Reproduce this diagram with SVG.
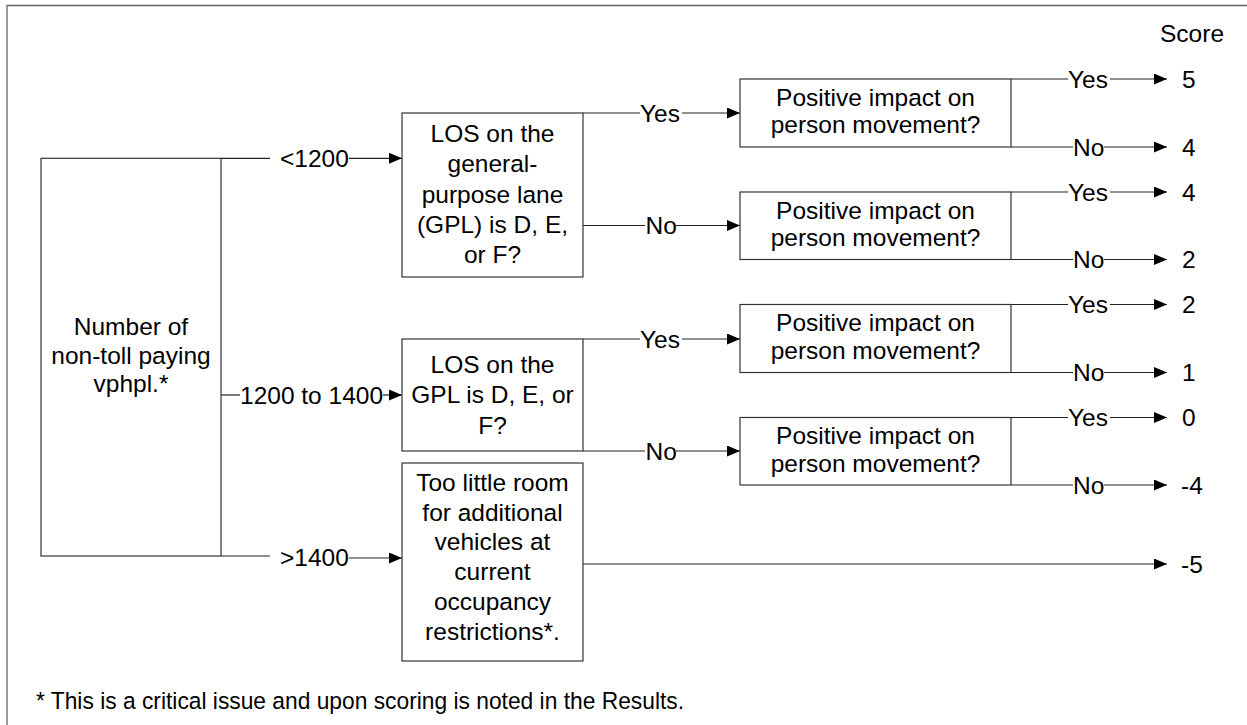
<svg xmlns="http://www.w3.org/2000/svg" width="1247" height="725" viewBox="0 0 1247 725">
<defs>
<style>
text{font-family:"Liberation Sans",Arial,sans-serif;font-size:24.5px;fill:#000}
.c{text-anchor:middle}
.box{fill:#fff;stroke:#333;stroke-width:1.2}
.ln{fill:none;stroke:#222;stroke-width:1.2}
.ar{fill:none;stroke:#222;stroke-width:1.2;marker-end:url(#ah)}
.frame{fill:none;stroke:#666;stroke-width:1.3}
</style>
<marker id="ah" markerWidth="13" markerHeight="11" refX="13" refY="5.5" orient="auto" markerUnits="userSpaceOnUse"><path d="M0,0 L13,5.5 L0,11 z" fill="#000"/></marker>
</defs>
<rect x="0" y="0" width="1247" height="725" fill="#fff"/>
<path class="frame" d="M1247,5.5 H7 V725"/>
<text x="1160" y="41.5">Score</text>

<g id="connectors">
  <!-- from root -->
  <path class="ln" d="M221,158.3 H270"/>
  <text x="280" y="166.8">&lt;1200</text>
  <path class="ar" d="M349,158.3 H402"/>
  <path class="ln" d="M221,395 H240"/>
  <text x="240" y="403.5">1200 to 1400</text>
  <path class="ar" d="M383,395 H402"/>
  <path class="ln" d="M221,556 H270"/>
  <text x="280" y="566">&gt;1400</text>
  <path class="ar" d="M349,558 H402"/>

  <!-- LOS 1 -->
  <path class="ln" d="M583,113 H640"/>
  <text x="640" y="121.5">Yes</text>
  <path class="ar" d="M682,113 H740"/>
  <path class="ln" d="M583,225.5 H645"/>
  <text x="645.5" y="234">No</text>
  <path class="ar" d="M676,225.5 H740"/>

  <!-- LOS 2 -->
  <path class="ln" d="M583,339 H640"/>
  <text x="640" y="347.5">Yes</text>
  <path class="ar" d="M682,339 H740"/>
  <path class="ln" d="M583,451 H645"/>
  <text x="645.5" y="459.5">No</text>
  <path class="ar" d="M676,451 H740"/>

  <!-- Too little room -->
  <path class="ar" d="M583,564 H1167"/>
  <text x="1181" y="572.5">-5</text>

  <!-- Positive 1 -->
  <path class="ln" d="M1011,79 H1068"/>
  <text x="1068" y="87.5">Yes</text>
  <path class="ar" d="M1110,79 H1167"/>
  <text x="1182" y="87.5">5</text>
  <path class="ln" d="M1011,147 H1073"/>
  <text x="1073" y="155.5">No</text>
  <path class="ar" d="M1104,147 H1167"/>
  <text x="1182" y="155.5">4</text>

  <!-- Positive 2 -->
  <path class="ln" d="M1011,192 H1068"/>
  <text x="1068" y="200.5">Yes</text>
  <path class="ar" d="M1110,192 H1167"/>
  <text x="1182" y="200.5">4</text>
  <path class="ln" d="M1011,259.5 H1073"/>
  <text x="1073" y="268">No</text>
  <path class="ar" d="M1104,259.5 H1167"/>
  <text x="1182" y="268">2</text>

  <!-- Positive 3 -->
  <path class="ln" d="M1011,304.5 H1068"/>
  <text x="1068" y="313">Yes</text>
  <path class="ar" d="M1110,304.5 H1167"/>
  <text x="1182" y="313">2</text>
  <path class="ln" d="M1011,372.5 H1073"/>
  <text x="1073" y="381">No</text>
  <path class="ar" d="M1104,372.5 H1167"/>
  <text x="1182" y="381">1</text>

  <!-- Positive 4 -->
  <path class="ln" d="M1011,417.5 H1068"/>
  <text x="1068" y="426">Yes</text>
  <path class="ar" d="M1110,417.5 H1167"/>
  <text x="1182" y="426">0</text>
  <path class="ln" d="M1011,485 H1073"/>
  <text x="1073" y="493.5">No</text>
  <path class="ar" d="M1104,485 H1167"/>
  <text x="1181" y="493.5">-4</text>
</g>

<g id="root">
  <rect class="box" x="41" y="158.3" width="180" height="397.7"/>
  <text class="c" x="131" y="335">Number of</text>
  <text class="c" x="131" y="363.5">non-toll paying</text>
  <text class="c" x="131" y="392">vphpl.*</text>
</g>

<g id="los1">
  <rect class="box" x="402" y="113" width="181" height="164"/>
  <text class="c" x="492.5" y="142.3">LOS on the</text>
  <text class="c" x="492.5" y="172.4">general-</text>
  <text class="c" x="492.5" y="202.5">purpose lane</text>
  <text class="c" x="492.5" y="232.6">(GPL) is D, E,</text>
  <text class="c" x="492.5" y="262.7">or F?</text>
</g>

<g id="los2">
  <rect class="box" x="402" y="339" width="181" height="112"/>
  <text class="c" x="492.5" y="373">LOS on the</text>
  <text class="c" x="492.5" y="403.3">GPL is D, E, or</text>
  <text class="c" x="492.5" y="433.5">F?</text>
</g>

<g id="toolittle">
  <rect class="box" x="402" y="463" width="181" height="198"/>
  <text class="c" x="492.5" y="490.7">Too little room</text>
  <text class="c" x="492.5" y="520.5">for additional</text>
  <text class="c" x="492.5" y="550.3">vehicles at</text>
  <text class="c" x="492.5" y="580.1">current</text>
  <text class="c" x="492.5" y="609.9">occupancy</text>
  <text class="c" x="492.5" y="639.7">restrictions*.</text>
</g>

<g id="pos1">
  <rect class="box" x="740" y="79" width="271" height="68"/>
  <text class="c" x="875.5" y="105.7">Positive impact on</text>
  <text class="c" x="875.5" y="133.3">person movement?</text>
</g>
<g id="pos2">
  <rect class="box" x="740" y="192" width="271" height="67.5"/>
  <text class="c" x="875.5" y="218.7">Positive impact on</text>
  <text class="c" x="875.5" y="246.3">person movement?</text>
</g>
<g id="pos3">
  <rect class="box" x="740" y="304.5" width="271" height="68"/>
  <text class="c" x="875.5" y="331.2">Positive impact on</text>
  <text class="c" x="875.5" y="358.8">person movement?</text>
</g>
<g id="pos4">
  <rect class="box" x="740" y="417.5" width="271" height="67.5"/>
  <text class="c" x="875.5" y="444.2">Positive impact on</text>
  <text class="c" x="875.5" y="471.8">person movement?</text>
</g>

<text x="36" y="709" textLength="648" lengthAdjust="spacingAndGlyphs">* This is a critical issue and upon scoring is noted in the Results.</text>
</svg>
